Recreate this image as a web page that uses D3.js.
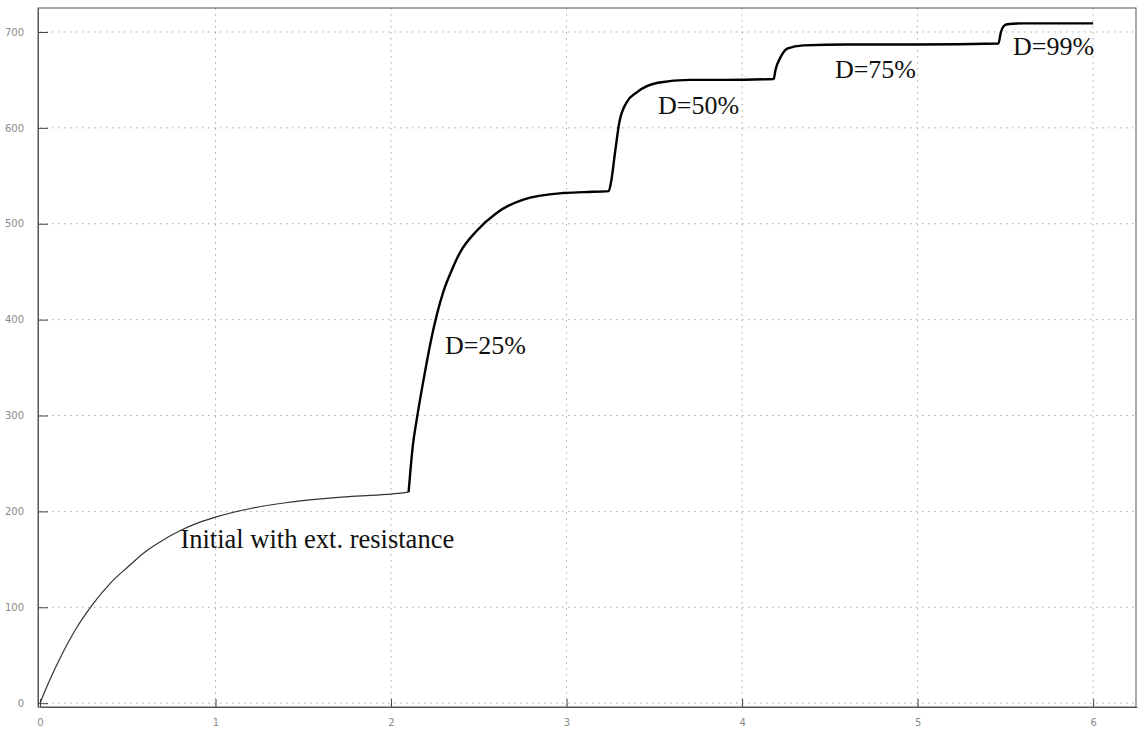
<!DOCTYPE html>
<html><head><meta charset="utf-8">
<script src="https://cdn.jsdelivr.net/npm/d3@7"></script>
<style>body{margin:0;background:#fff}svg{display:block}</style>
</head><body>
<svg id="c" width="1138" height="730"></svg>
<script>
// Data
const initTime = [0, 0.02, 0.06, 0.12, 0.2, 0.3, 0.4, 0.5, 0.6, 0.7, 0.8, 0.9, 1.0, 1.2, 1.4, 1.6, 1.8, 2.0, 2.1];
const initVal  = [0, 9, 26, 49, 76, 103, 125, 142, 158, 170, 180, 188, 194, 203, 209, 213, 216, 218, 220];
const stepTime = [2.1, 2.125, 2.143, 2.182, 2.24, 2.296, 2.347, 2.39, 2.49, 2.6, 2.75, 2.98, 3.1, 3.24, 3.255, 3.276, 3.3, 3.34, 3.4, 3.52, 3.7, 3.9, 4.18, 4.19, 4.22, 4.26, 4.35, 4.6, 5.0, 5.46, 5.475, 5.49, 5.51, 5.6, 6.0];
const stepVal  = [220, 270, 292, 334, 389, 428, 452, 469, 493, 511, 525, 532, 533, 534, 545, 574, 605, 626, 637, 647, 650, 650, 651, 660, 674, 683, 686, 687, 687, 688, 700, 706, 708, 709, 709];
const xTicks = [0, 1, 2, 3, 4, 5, 6];
const yTicks = [0, 100, 200, 300, 400, 500, 600, 700];
const labels = ["Initial with ext. resistance", "D=25%", "D=50%", "D=75%", "D=99%"];

const svg = d3.select("#c");
const L = 40, R = 1137, T = 8, B = 707;
const x = d3.scaleLinear().domain([0, 6.25]).range([L, R]);
const y = d3.scaleLinear().domain([-4, 725]).range([B, T]);

// grid
const g = svg.append("g");
g.selectAll("line.vx").data(xTicks.slice(1)).enter().append("line")
  .attr("x1", d => x(d)).attr("x2", d => x(d)).attr("y1", T).attr("y2", B)
  .attr("stroke", "#a8a8a8").attr("stroke-width", 1).attr("stroke-dasharray", "1.5,4.5");
g.selectAll("line.hy").data(yTicks).enter().append("line")
  .attr("x1", L).attr("x2", R).attr("y1", d => y(d)).attr("y2", d => y(d))
  .attr("stroke", "#a8a8a8").attr("stroke-width", 1).attr("stroke-dasharray", "1.5,4.5");

// frame
svg.append("rect").attr("x", L - 2).attr("y", T).attr("width", R - L + 1).attr("height", B - T)
  .attr("fill", "none").attr("stroke", "#555").attr("stroke-width", 1);

// axes
const xAxis = d3.axisBottom(x).tickValues(xTicks).tickSizeInner(-8).tickSizeOuter(0).tickPadding(12).tickFormat(d3.format("d"));
const gx = svg.append("g").attr("transform", `translate(0,${B})`).call(xAxis);
const yAxis = d3.axisLeft(y).tickValues(yTicks).tickSizeInner(-10).tickSizeOuter(0).tickPadding(14).tickFormat(d3.format("d"));
const gy = svg.append("g").attr("transform", `translate(${L - 2},0)`).call(yAxis);
[gx, gy].forEach(a => {
  a.select(".domain").attr("stroke", "#555");
  a.selectAll(".tick line").attr("stroke", "#444");
  a.selectAll(".tick text").attr("fill", "#8a8a8a").style("font-family", "'DejaVu Sans', sans-serif").style("font-size", "10px");
});

// curves
const line = d3.line().x(d => x(d[0])).y(d => y(d[1])).curve(d3.curveMonotoneX);
const initData = initTime.map((t, i) => [t, initVal[i]]);
const stepData = stepTime.map((t, i) => [t, stepVal[i]]);
svg.append("path").datum(initData).attr("d", line)
  .attr("fill", "none").attr("stroke", "#333").attr("stroke-width", 1.2);
svg.append("path").datum(stepData).attr("d", line)
  .attr("fill", "none").attr("stroke", "#000").attr("stroke-width", 2.4).attr("stroke-linejoin", "round");

// annotations
const pos = [[0.80, 162], [2.307, 364], [3.521, 614], [4.529, 652], [5.544, 676]];
svg.selectAll("text.ann").data(labels).enter().append("text")
  .attr("class", "ann")
  .attr("x", (d, i) => x(pos[i][0])).attr("y", (d, i) => y(pos[i][1]))
  .attr("fill", "#111")
  .style("font-family", "'Liberation Serif', 'Times New Roman', serif")
  .style("font-size", (d, i) => i === 0 ? "26.5px" : "26px")
  .text(d => d);
</script>
</body></html>
